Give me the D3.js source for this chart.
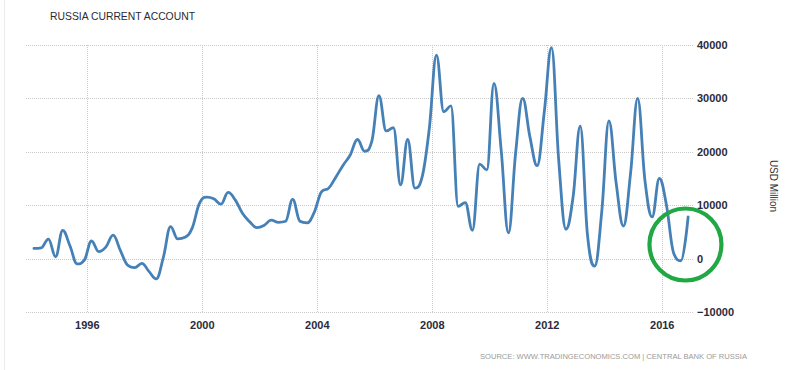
<!DOCTYPE html>
<html>
<head>
<meta charset="utf-8">
<script src="https://cdn.jsdelivr.net/npm/d3@7"></script>
<style>
  html, body { margin: 0; padding: 0; background: #fff; }
  svg { display: block; font-family: "Liberation Sans", Arial, sans-serif; }
</style>
</head>
<body>
<svg id="chart" width="795" height="370"></svg>
<script>
// ---------------- data ----------------
const title = "RUSSIA CURRENT ACCOUNT";
const yAxisTitle = "USD Million";
const sourceText = "SOURCE: WWW.TRADINGECONOMICS.COM | CENTRAL BANK OF RUSSIA";

const firstYear = 1994;
const quarterMonths = [2, 5, 8, 11]; // month (0-based) each quarter is plotted at

// USD million, quarterly 1994 Q1 .. 2016 Q4
const values = [
   1900,  2000,  3650,   350,  // 1994
   5300,  2400, -1000,  -300,  // 1995
   3300,  1300,  2200,  4400,  // 1996
   1600, -1200, -1700,  -900,  // 1997
  -2400, -3800,   300,  6000,  // 1998
   3700,  4000,  5700, 10300,  // 1999
  11500, 11200, 10200, 12400,  // 2000
  11000,  8500,  6900,  5800,  // 2001
   6200,  7200,  6800,  7000,  // 2002
  11100,  7000,  6700,  8700,  // 2003
  12500, 13200, 15300, 17500,  // 2004
  19400, 22300, 20100, 22000,  // 2005
  30500, 23900, 24500, 13800,  // 2006
  22300, 13200, 15300, 24400,  // 2007
  38100, 27500, 28600,  9800,  // 2008
  10500,  5300, 17700, 16600,  // 2009
  32800, 20300,  4800, 19700,  // 2010
  30000, 22800, 17400, 27500,  // 2011
  39500, 18400,  5500, 11600,  // 2012
  24800,  4500, -1400,  9000,  // 2013
  25800, 14100,  6100, 16000,  // 2014
  30000, 14700,  7800, 15000,  // 2015
  10000,  1000,  -400,  7800   // 2016
];

const yTickValues = [-10000, 0, 10000, 20000, 30000, 40000];
const xTickYears = [1996, 2000, 2004, 2008, 2012, 2016];
const xDomain = [new Date(1993, 10, 20), new Date(2017, 1, 1)];
const yDomain = [-10000, 40000];

// annotation (green circle) location in data space
const highlightDate = new Date(2016, 9, 28);
const highlightValue = 2640;

// ---------------- spline curve (smoothed, no false extremes) ----------------
function SplineCurve(context) { this._context = context; }
SplineCurve.prototype = {
  areaStart() { this._line = 0; },
  areaEnd() { this._line = NaN; },
  lineStart() { this._pts = []; },
  point(px, py) { this._pts.push([+px, +py]); },
  lineEnd() {
    const p = this._pts, n = p.length, ctx = this._context;
    if (!n) return;
    const s = 1.5, den = s + 1;
    const L = [], R = [];
    for (let i = 0; i < n; i++) {
      if (i === 0 || i === n - 1) { L.push(p[i].slice()); R.push(p[i].slice()); continue; }
      const [x0, y0] = p[i - 1], [x1, y1] = p[i], [x2, y2] = p[i + 1];
      let lx = (s * x1 + x0) / den, ly = (s * y1 + y0) / den;
      let rx = (s * x1 + x2) / den, ry = (s * y1 + y2) / den;
      if (rx !== lx) {
        const c = ((ry - ly) * (rx - x1)) / (rx - lx) + y1 - ry;
        ly += c; ry += c;
      }
      if (ly > y0 && ly > y1) { ly = Math.max(y0, y1); ry = 2 * y1 - ly; }
      else if (ly < y0 && ly < y1) { ly = Math.min(y0, y1); ry = 2 * y1 - ly; }
      if (ry > y2 && ry > y1) { ry = Math.max(y2, y1); ly = 2 * y1 - ry; }
      else if (ry < y2 && ry < y1) { ry = Math.min(y2, y1); ly = 2 * y1 - ry; }
      L.push([lx, ly]); R.push([rx, ry]);
    }
    ctx.moveTo(p[0][0], p[0][1]);
    for (let i = 1; i < n; i++) {
      ctx.bezierCurveTo(R[i - 1][0], R[i - 1][1], L[i][0], L[i][1], p[i][0], p[i][1]);
    }
  }
};
const curveSpline = ctx => new SplineCurve(ctx);

// ---------------- build ----------------
const data = values.map((v, i) => ({
  date: new Date(firstYear + Math.floor(i / 4), quarterMonths[i % 4], 1),
  value: v
}));

const svg = d3.select("#chart");
const plot = { left: 26, right: 693, top: 45, bottom: 312 };

const x = d3.scaleTime().domain(xDomain).range([plot.left, plot.right]);
const y = d3.scaleLinear().domain(yDomain).range([plot.bottom, plot.top]);

// faint left border
svg.append("line")
  .attr("x1", 4.5).attr("x2", 4.5).attr("y1", 0).attr("y2", 370)
  .attr("stroke", "#ececec").attr("stroke-width", 1);

// title
svg.append("text")
  .attr("x", 50).attr("y", 20)
  .attr("font-size", 10.5)
  .attr("fill", "#2a2a33")
  .attr("textLength", 145).attr("lengthAdjust", "spacingAndGlyphs")
  .text(title);

// horizontal grid
const gridColor = "#c9c9c9";
svg.append("g").selectAll("line")
  .data(yTickValues).join("line")
  .attr("x1", plot.left).attr("x2", plot.right)
  .attr("y1", d => Math.round(y(d)) + 0.5).attr("y2", d => Math.round(y(d)) + 0.5)
  .attr("stroke", gridColor).attr("stroke-width", 1)
  .attr("stroke-dasharray", "1,1");

// vertical grid
const xTickDates = xTickYears.map(yr => new Date(yr, 0, 1));
svg.append("g").selectAll("line")
  .data(xTickDates).join("line")
  .attr("x1", d => Math.round(x(d)) + 0.5).attr("x2", d => Math.round(x(d)) + 0.5)
  .attr("y1", plot.top).attr("y2", plot.bottom)
  .attr("stroke", gridColor).attr("stroke-width", 1)
  .attr("stroke-dasharray", "1,1");

// y axis labels (right)
const yAxis = d3.axisRight(y).tickValues(yTickValues).tickSize(0).tickPadding(0)
  .tickFormat(d3.format("d"));
const gy = svg.append("g").attr("transform", `translate(${plot.right + 4},0)`).call(yAxis);
gy.select(".domain").remove();
gy.selectAll("text")
  .attr("font-family", "Liberation Sans, Arial, sans-serif")
  .attr("font-size", 11).attr("font-weight", "bold").attr("fill", "#2b2b3a");

// x axis labels
const xAxis = d3.axisBottom(x).tickValues(xTickDates).tickSize(0).tickPadding(0)
  .tickFormat(d3.timeFormat("%Y"));
const gx = svg.append("g").attr("transform", `translate(0,${plot.bottom + 9})`).call(xAxis);
gx.select(".domain").remove();
gx.selectAll("text")
  .attr("font-family", "Liberation Sans, Arial, sans-serif")
  .attr("font-size", 11).attr("font-weight", "bold").attr("fill", "#2b2b3a");

// y axis title
svg.append("text")
  .attr("transform", `translate(773,186) rotate(90)`)
  .attr("text-anchor", "middle")
  .attr("dominant-baseline", "central")
  .attr("font-size", 10).attr("fill", "#333")
  .text(yAxisTitle);

// line
const line = d3.line()
  .x(d => x(d.date))
  .y(d => y(d.value))
  .curve(curveSpline);

svg.append("path")
  .datum(data)
  .attr("d", line)
  .attr("fill", "none")
  .attr("stroke", "#4580b6")
  .attr("stroke-width", 2.8)
  .attr("stroke-linejoin", "round")
  .attr("stroke-linecap", "round");

// green highlight circle
svg.append("circle")
  .attr("cx", x(highlightDate)).attr("cy", y(highlightValue))
  .attr("r", 36)
  .attr("fill", "none")
  .attr("stroke", "#21a845")
  .attr("stroke-width", 4.2);

// source
svg.append("text")
  .attr("x", 480).attr("y", 359)
  .attr("font-size", 8).attr("fill", "#9a9a9a")
  .attr("textLength", 267).attr("lengthAdjust", "spacingAndGlyphs")
  .text(sourceText);
</script>
</body>
</html>
